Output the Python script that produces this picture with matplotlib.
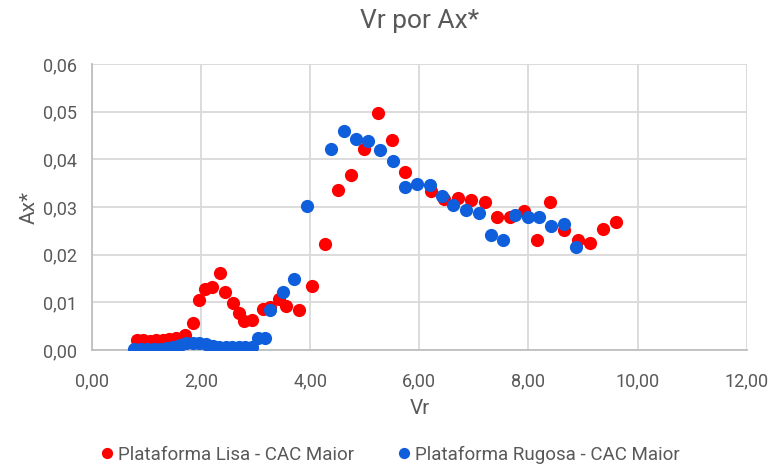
import matplotlib.pyplot as plt
from matplotlib.ticker import FuncFormatter, MultipleLocator

plt.rcParams['font.family'] = ['Roboto', 'DejaVu Sans']

# Plataforma Lisa - CAC Maior
vr_lisa = [0.82, 0.94, 1.06, 1.18, 1.30, 1.42, 1.54, 1.71, 1.85, 1.97, 2.08, 2.20,
           2.34, 2.43, 2.58, 2.69, 2.79, 2.93, 3.13, 3.27, 3.42, 3.55, 3.79, 4.04,
           4.27, 4.50, 4.74, 4.99, 5.24, 5.49, 5.73, 6.21, 6.45, 6.71, 6.95, 7.20,
           7.43, 7.66, 7.92, 8.16, 8.40, 8.65, 8.90, 9.12, 9.37, 9.61]
ax_lisa = [0.0022, 0.0021, 0.0020, 0.0021, 0.0022, 0.0024, 0.0025, 0.0031, 0.0056,
           0.0106, 0.0129, 0.0133, 0.0162, 0.0122, 0.0098, 0.0077, 0.0061, 0.0063,
           0.0087, 0.0091, 0.0108, 0.0093, 0.0084, 0.0135, 0.0222, 0.0335, 0.0367,
           0.0423, 0.0497, 0.0440, 0.0374, 0.0334, 0.0318, 0.0319, 0.0314, 0.0310,
           0.0279, 0.0279, 0.0291, 0.0232, 0.0311, 0.0252, 0.0231, 0.0224, 0.0254,
           0.0269]

# Plataforma Rugosa - CAC Maior
vr_rugosa = [0.77, 0.89, 1.01, 1.13, 1.25, 1.37, 1.49, 1.61, 1.73, 1.85, 1.97, 2.09,
             2.21, 2.33, 2.45, 2.57, 2.69, 2.81, 2.93, 3.05, 3.18, 3.27, 3.50, 3.71,
             3.94, 4.38, 4.61, 4.84, 5.06, 5.28, 5.51, 5.73, 5.96, 6.20, 6.42, 6.62,
             6.85, 7.10, 7.31, 7.53, 7.76, 7.99, 8.20, 8.42, 8.65, 8.88]
ax_rugosa = [0.0003, 0.0003, 0.0003, 0.0003, 0.0003, 0.0004, 0.0007, 0.0011, 0.0014,
             0.0016, 0.0016, 0.0012, 0.0009, 0.0007, 0.0006, 0.0006, 0.0006, 0.0006,
             0.0006, 0.0026, 0.0026, 0.0085, 0.0122, 0.0150, 0.0302, 0.0421, 0.0460,
             0.0444, 0.0439, 0.0419, 0.0396, 0.0342, 0.0349, 0.0347, 0.0323, 0.0304,
             0.0295, 0.0287, 0.0241, 0.0231, 0.0283, 0.0279, 0.0279, 0.0260, 0.0264,
             0.0217]

fig, ax = plt.subplots(figsize=(7.73, 4.65), dpi=100)
fig.subplots_adjust(left=0.119, right=0.966, top=0.862, bottom=0.247)

ax.plot(vr_lisa, ax_lisa, 'o', color='#ff0000', markersize=9.5, markeredgewidth=0,
        label='Plataforma Lisa - CAC Maior', zorder=3)
ax.plot(vr_rugosa, ax_rugosa, 'o', color='#0f5fdc', markersize=9.5, markeredgewidth=0,
        label='Plataforma Rugosa - CAC Maior', zorder=3)

ax.set_xlim(0, 12)
ax.set_ylim(0, 0.06)
ax.xaxis.set_major_locator(MultipleLocator(2))
ax.yaxis.set_major_locator(MultipleLocator(0.01))
ax.xaxis.set_major_formatter(FuncFormatter(lambda v, p: f'{v:.2f}'.replace('.', ',')))
ax.yaxis.set_major_formatter(FuncFormatter(lambda v, p: f'{v:.2f}'.replace('.', ',')))

ax.grid(True, color='#d9d9d9', linewidth=1.3)
ax.set_axisbelow(True)
for s in ['top', 'right']:
    ax.spines[s].set_visible(False)
for s in ['left', 'bottom']:
    ax.spines[s].set_color('#bfbfbf')
    ax.spines[s].set_linewidth(1.3)
ax.tick_params(length=0, labelsize=13, labelcolor='#595959')
ax.tick_params(axis='x', pad=16)
ax.tick_params(axis='y', pad=11)

ax.set_title('Vr por Ax*', fontsize=19, color='#595959', pad=26)
ax.set_xlabel('Vr', fontsize=15, color='#595959', labelpad=6)
ax.set_ylabel('Ax*', fontsize=15, color='#595959', labelpad=3)

fig.legend(loc='center', bbox_to_anchor=(0.504, 0.022), ncol=2, frameon=False,
           fontsize=13.5, labelcolor='#595959', handlelength=0.8, handletextpad=0.15,
           columnspacing=2.3, markerscale=0.85)

fig.savefig('out.png')
